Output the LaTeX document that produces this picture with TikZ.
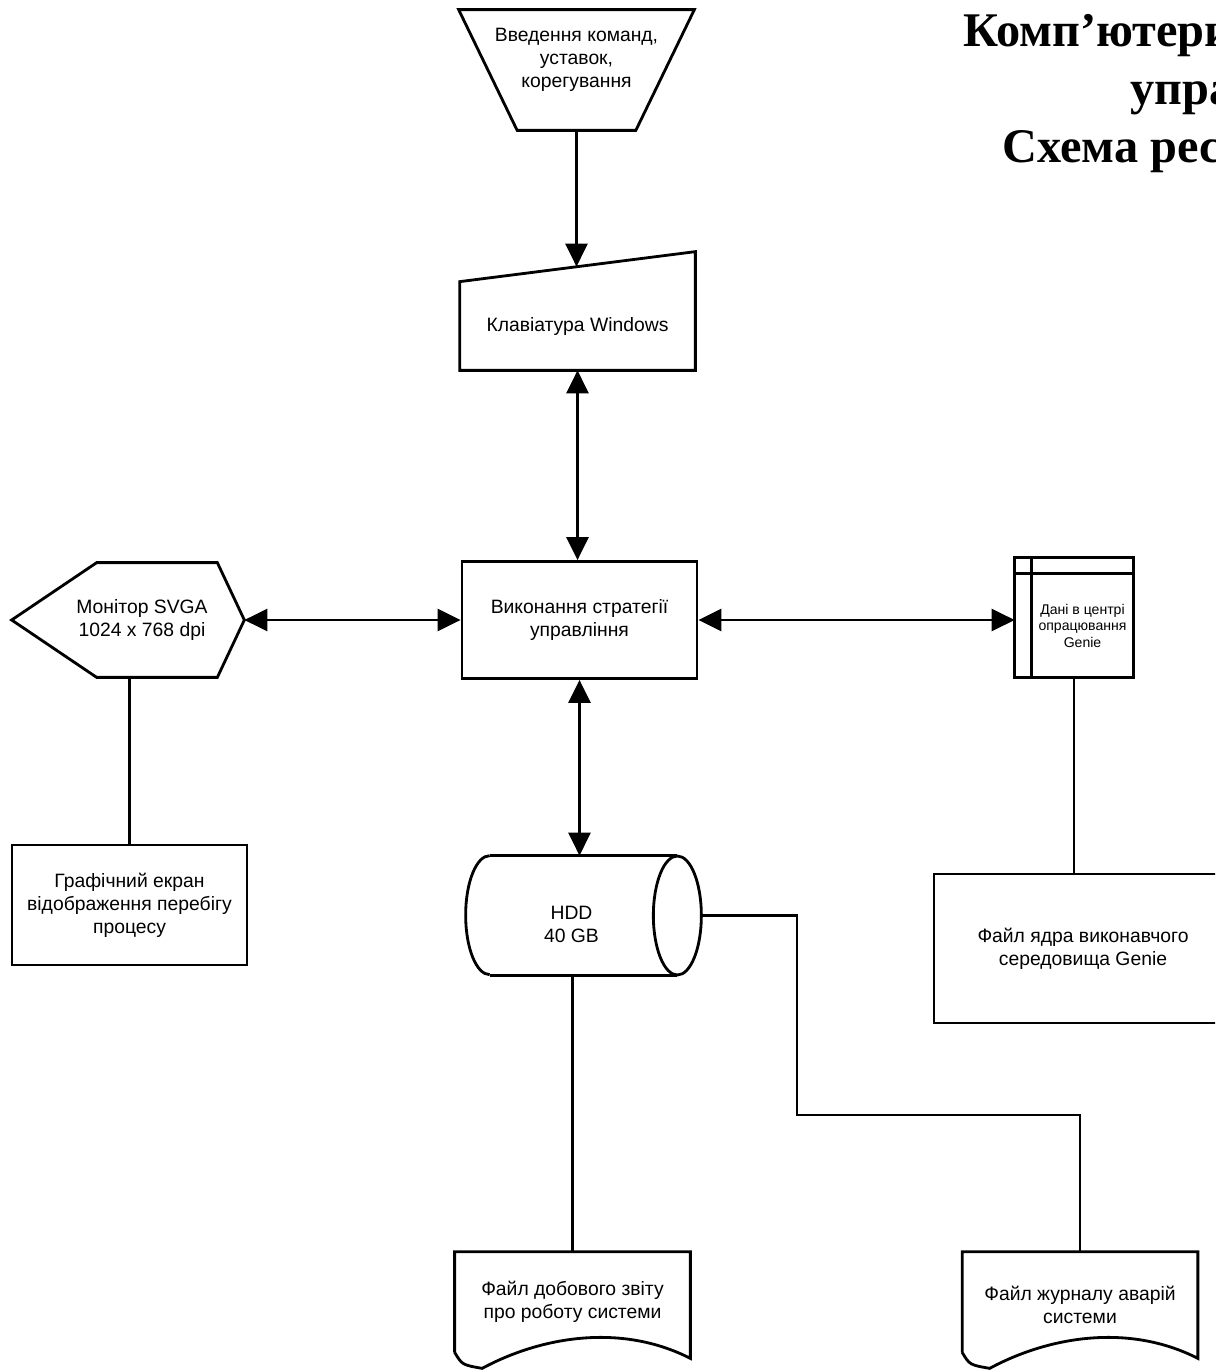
\documentclass[tikz,border=0pt]{standalone}
\usepackage{fontspec}
\setmainfont{Liberation Sans}
\newfontfamily\titlefont{Liberation Serif}
\usetikzlibrary{arrows.meta}

\newcommand{\boxfont}{\fontsize{11}{13}\selectfont}
\newcommand{\smallboxfont}{\fontsize{8}{9.4}\selectfont}

\tikzset{
  lbl/.style={inner sep=0pt, align=center, font=\boxfont},
  blk/.style={line width=1.6pt},
  box/.style={lbl, draw, blk},
  link/.style={line width=1.5pt},
  flow/.style={link, -{Triangle[length=4.6mm,width=4.4mm]}},
  twoway/.style={link, {Triangle[length=4.6mm,width=4.4mm]}-{Triangle[length=4.6mm,width=4.4mm]}}
}

\begin{document}
\begin{tikzpicture}
\useasboundingbox (0,0) rectangle (24.3,-27.4);
\clip (0,0) rectangle (24.3,-27.4);

% title
\node[anchor=base west, inner sep=0pt, font={\titlefont\bfseries\fontsize{27.5}{33}\selectfont}] (title1) at (19.26,-0.94) {Комп’ютери};
\node[anchor=base west, inner sep=0pt, font={\titlefont\bfseries\fontsize{27.5}{33}\selectfont}] (title2) at (22.6,-2.1) {упра};
\node[anchor=base west, inner sep=0pt, font={\titlefont\bfseries\fontsize{27.5}{33}\selectfont}] (title3) at (20.04,-3.26) {Схема рес};

% manual input
\node[lbl, minimum width=4.7cm, minimum height=2cm] (inp) at (11.53,-1.2) {Введення команд,\\уставок,\\корегування};
\draw[blk] (inp.north west) -- (inp.north east) -- ([shift={(-1.17cm,-.4cm)}]inp.south east) -- ([shift={(1.17cm,-.4cm)}]inp.south west) -- cycle;
\coordinate (inp-out) at ([yshift=-.4cm]inp.south);

% keyboard
\node[lbl, minimum width=4.7cm, minimum height=1.76cm] (kbd) at (11.55,-6.52) {Клавіатура Windows};
\draw[blk] (kbd.south west) -- (kbd.north west) -- ([yshift=.6cm]kbd.north east) -- (kbd.south east) -- cycle;
\coordinate (kbd-in) at ([yshift=.3cm]kbd.north);

% control strategy
\node[box, minimum width=4.7cm, minimum height=2.34cm] (ctl) at (11.59,-12.4) {Виконання стратегії\\управління};

% monitor
\node[lbl, minimum width=4.08cm, minimum height=2.28cm] (mon) at (2.84,-12.4) {Монітор SVGA\\1024 x 768 dpi};
\draw[blk] ([xshift=-.56cm]mon.west) -- ([xshift=1.14cm]mon.north west) -- ([xshift=-.54cm]mon.north east) -- (mon.east) -- ([xshift=-.54cm]mon.south east) -- ([xshift=1.14cm]mon.south west) -- cycle;

% graphic screen
\node[box, minimum width=4.7cm, minimum height=2.4cm] (gfx) at (2.59,-18.1) {Графічний екран\\відображення перебігу\\процесу};

% internal storage
\node[lbl, minimum width=2.02cm, minimum height=2.06cm, font=\smallboxfont] (store) at (21.65,-12.51) {Дані в центрі\\опрацювання\\Genie};
\draw[blk] ([shift={(-.34cm,.32cm)}]store.north west) rectangle (store.south east);
\draw[blk] ([xshift=-.34cm]store.north west) -- (store.north east);
\draw[blk] ([yshift=.32cm]store.north west) -- (store.south west);
\coordinate (store-w) at ([xshift=-.34cm]store.west);
\coordinate (store-s) at ([xshift=-.17cm]store.south);

% hdd
\node[lbl, minimum width=4.22cm, minimum height=2.38cm] (hdd) at (11.43,-18.49) {HDD\\40 GB};
\draw[blk] ([shift={(.48cm,.18cm)}]hdd.north west) -- ([yshift=.18cm]hdd.north east);
\draw[blk] ([shift={(.48cm,.18cm)}]hdd.south west) -- ([yshift=.18cm]hdd.south east);
\draw[blk] ([shift={(.48cm,.18cm)}]hdd.north west) arc[start angle=90, end angle=270, x radius=.48cm, y radius=1.19cm];
\draw[blk] ([yshift=.18cm]hdd.east) ellipse[x radius=.48cm, y radius=1.19cm];
\coordinate (hdd-r) at ([shift={(.48cm,.18cm)}]hdd.east);
\coordinate (hdd-top) at ([yshift=.18cm]hdd.north);
\coordinate (hdd-bot) at ([yshift=.18cm]hdd.south);

% core file
\node[box, minimum width=5.96cm, minimum height=2.98cm] (core) at (21.66,-18.97) {Файл ядра виконавчого\\середовища Genie};

% daily report
\node[lbl, minimum width=4.7cm, minimum height=2cm] (rep) at (11.45,-26.04) {Файл добового звіту\\про роботу системи};
\draw[blk] (rep.south west) -- (rep.north west) -- (rep.north east) -- ([yshift=-.12cm]rep.south east)
  .. controls ([shift={(3.3,.6)}]rep.south west) and ([shift={(1.7,.3)}]rep.south west) .. ([shift={(.55,-.32)}]rep.south west)
  .. controls ([shift={(.15,-.25)}]rep.south west) .. (rep.south west);

% fault log
\node[lbl, minimum width=4.7cm, minimum height=2cm] (log) at (21.6,-26.1) {Файл журналу аварій\\системи};
\draw[blk] ([yshift=.06cm]log.south west) -- ([yshift=.06cm]log.north west) -- ([yshift=.06cm]log.north east) -- ([yshift=-.06cm]log.south east)
  .. controls ([shift={(3.3,.66)}]log.south west) and ([shift={(1.7,.36)}]log.south west) .. ([shift={(.55,-.26)}]log.south west)
  .. controls ([shift={(.15,-.19)}]log.south west) .. ([yshift=.06cm]log.south west);
\coordinate (log-top) at ([yshift=.06cm]log.north);

% connectors
\coordinate (bend) at (15.94,-22.3);
\draw[flow] (inp-out) -- (inp-out |- kbd-in);
\draw[twoway] (kbd.south) -- (kbd.south |- ctl.north);
\draw[twoway] (mon.east) -- (ctl.west);
\draw[twoway] (ctl.east) -- (ctl.east -| store-w);
\draw[twoway] (ctl.south) -- (ctl.south |- hdd-top);
\draw[link] (gfx.north |- mon.south) -- (gfx.north);
\draw[link] (store-s) -- (store-s |- core.north);
\draw[link] (rep.north |- hdd-bot) -- (rep.north);
\draw[link] (hdd-r) -| (bend) -| (log-top);
\end{tikzpicture}
\end{document}
